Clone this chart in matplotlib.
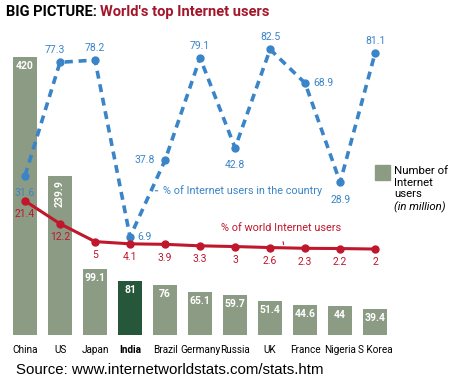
import matplotlib.pyplot as plt
import numpy as np

countries = ['China', 'US', 'Japan', 'India', 'Brazil', 'Germany', 'Russia', 'UK', 'France', 'Nigeria', 'S Korea']
users = [420, 239.9, 99.1, 81, 76, 65.1, 59.7, 51.4, 44.6, 44, 39.4]      # million
pct_country = [31.6, 77.3, 78.2, 6.9, 37.8, 79.1, 42.8, 82.5, 68.9, 28.9, 81.1]
pct_world = [21.4, 12.2, 5, 4.1, 3.9, 3.3, 3, 2.6, 2.3, 2.2, 2]
user_labels = ['420', '239.9', '99.1', '81', '76', '65.1', '59.7', '51.4', '44.6', '44', '39.4']

grey = '#8c9b84'
india = '#27573a'
blue = '#3a84c8'
red = '#c0172c'

plt.rcParams['font.family'] = ['Roboto', 'DejaVu Sans']

fig = plt.figure(figsize=(4.5, 3.8), dpi=100)
ax = fig.add_axes([0, 1 - 335/380, 400/450, 295/380])
x = np.arange(len(countries))
cols = [india if c == 'India' else grey for c in countries]
ax.bar(x, users, 0.69, color=cols)
ax.set_xlim(-0.714, 10.71)
ax.set_ylim(0, 420 * 295 / 278)
for s in ax.spines.values():
    s.set_visible(False)
ax.set_yticks([])
ax.set_xticks(x)
ax.set_xticklabels(countries, fontsize=7.2)
ax.tick_params(axis='x', length=0, pad=7)
ax.get_xticklabels()[3].set_fontweight('bold')

# values inside the bars
for i, (v, lab) in enumerate(zip(users, user_labels)):
    if i == 1:
        ax.text(i, v - 6, lab, color='white', fontsize=7.5, fontweight='bold',
                rotation=90, ha='center', va='top')
    else:
        ax.text(i, v - 6, lab, color='white', fontsize=7.5, fontweight='bold',
                ha='center', va='top')

# lines on a second scale
ax2 = ax.twinx()
ax2.set_ylim(-(335 - 254) / 2.48, (254 - 40) / 2.48)
ax2.axis('off')
ax2.plot(x, pct_country, color=blue, lw=2.6, ls=(0, (2.2, 1.6)), marker='o', ms=5)
ax2.plot(x, pct_world, color=red, lw=2.2, marker='o', ms=5)

# blue labels: offsets in points
boff = [(0, -9, 'center', 'top'), (-4, 5, 'center', 'bottom'), (0, 5, 'center', 'bottom'),
        (5, 0, 'left', 'center'), (-7, 0, 'right', 'center'), (0, 5, 'center', 'bottom'),
        (0, -9, 'center', 'top'), (0, 5, 'center', 'bottom'), (6, 0, 'left', 'center'),
        (0, -9, 'center', 'top'), (0, 5, 'center', 'bottom')]
for i, v in enumerate(pct_country):
    dx, dy, ha, va = boff[i]
    ax2.annotate(f'{v:g}', (i, v), xytext=(dx, dy), textcoords='offset points',
                 color=blue, fontsize=7.5, ha=ha, va=va)
for i, v in enumerate(pct_world):
    ax2.annotate(f'{v:g}', (i, v), xytext=(0, -6), textcoords='offset points',
                 color=red, fontsize=7.5, ha='center', va='top')

# series annotations
ax2.annotate('% of Internet users in the country', xy=(3.72, 25.5), xytext=(3.95, 25.5),
             color=blue, fontsize=7.8, ha='left', va='center',
             arrowprops=dict(arrowstyle='-', color=blue, lw=0.8))
ax2.annotate('% of world Internet users', xy=(7.4, 2.7), xytext=(7.3, 10.3),
             color=red, fontsize=7.8, ha='center', va='center',
             arrowprops=dict(arrowstyle='-', color=red, lw=0.8, shrinkA=4))

# legend
fig.patches.append(plt.Rectangle((375/450, 1 - 180/380), 15/450, 15/380,
                                 transform=fig.transFigure, color=grey))
fig.text(394/450, 1 - 166/380, 'Number of\nInternet\nusers', fontsize=8.2,
         va='top', ha='left', linespacing=1.2)
fig.text(394/450, 1 - 202/380, '(in million)', fontsize=8.2, style='italic',
         va='top', ha='left')

# title
t1 = fig.text(6/450, 1 - 12/380, 'BIG PICTURE: ', fontsize=10.5, fontweight='bold',
              va='center', ha='left')
fig.canvas.draw()
bb = t1.get_window_extent()
fig.text(bb.x1 / fig.bbox.width, 1 - 12/380, "World's top Internet users", fontsize=10.5,
         fontweight='bold', color='#a3162a', va='center', ha='left')

fig.text(16/450, 1 - 370/380, 'Source: www.internetworldstats.com/stats.htm',
         fontsize=10.8, family=['Liberation Sans', 'DejaVu Sans'], va='center', ha='left')

fig.savefig('out.png', dpi=100, facecolor='white')
